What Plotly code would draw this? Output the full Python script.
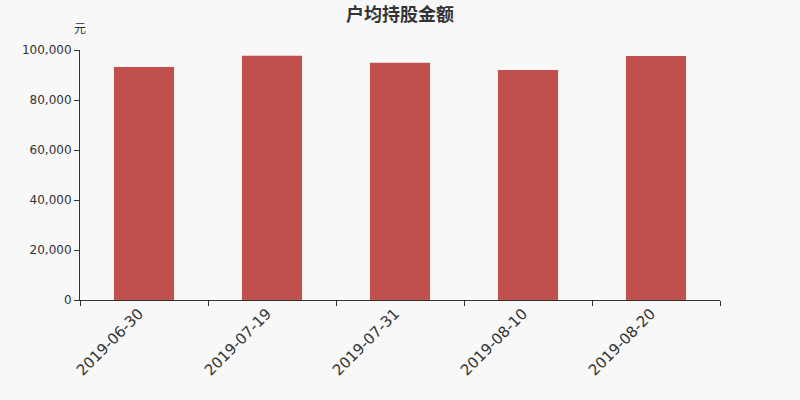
import plotly.graph_objects as go

# data
dates = ["2019-06-30", "2019-07-19", "2019-07-31", "2019-08-10", "2019-08-20"]
avg_holding = [93200, 97700, 94900, 92000, 97600]
y_ticks = [0, 20000, 40000, 60000, 80000, 100000]

font_family = "DejaVu Sans, Noto Sans CJK SC, sans-serif"

fig = go.Figure()
fig.add_trace(
    go.Bar(
        x=dates,
        y=avg_holding,
        marker=dict(color="#c0504d", line=dict(width=0)),
        hoverinfo="x+y",
    )
)

fig.update_layout(
    width=800,
    height=400,
    margin=dict(l=80, r=80, t=50, b=100),
    paper_bgcolor="#f8f8f8",
    plot_bgcolor="#f8f8f8",
    bargap=0.53,
    showlegend=False,
    font=dict(family=font_family, color="#333333"),
    title=dict(
        text="<b>户均持股金额</b>",
        x=0.5,
        xanchor="center",
        y=0.963,
        yanchor="middle",
        font=dict(family="Noto Sans CJK SC, sans-serif", size=18, color="#333333"),
    ),
    annotations=[
        dict(
            text="元",
            xref="paper",
            yref="paper",
            x=0,
            y=1.09,
            xanchor="center",
            yanchor="middle",
            showarrow=False,
            font=dict(family="Noto Sans CJK SC, sans-serif", size=12, color="#333333"),
        )
    ],
)

fig.update_xaxes(
    type="category",
    tickson="boundaries",
    ticks="outside",
    ticklen=5,
    tickcolor="#333333",
    showline=True,
    linecolor="#333333",
    linewidth=1,
    tickangle=-45,
    tickfont=dict(size=15, color="#333333"),
    ticklabelshift=-5,
    ticklabelstandoff=-2,
    showgrid=False,
)

fig.update_yaxes(
    range=[0, 100000],
    tickvals=y_ticks,
    tickformat=",d",
    ticks="outside",
    ticklen=5,
    tickcolor="#333333",
    showline=True,
    linecolor="#333333",
    linewidth=1,
    showgrid=False,
    zeroline=False,
    tickfont=dict(size=12, color="#333333"),
)

# drop the browser's default body margin so the chart sits at 0,0
fig.write_html(
    "out.html",
    config={"displayModeBar": False},
    post_script="document.body.style.margin='0';",
)
